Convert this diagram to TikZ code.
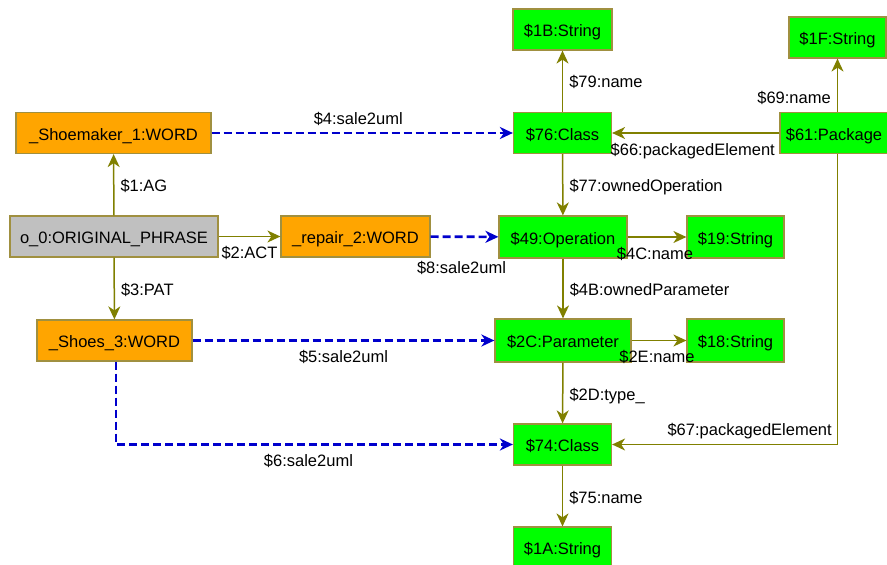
\documentclass[tikz,border=0pt]{standalone}
\usepackage{fontspec}
\setmainfont{Liberation Sans}
\usetikzlibrary{arrows.meta}
\definecolor{edgeolive}{HTML}{808000}
\definecolor{boxborder}{HTML}{A09040}
\definecolor{wordfill}{HTML}{FFA500}
\definecolor{umlfill}{HTML}{00FF00}
\definecolor{phrasefill}{HTML}{C0C0C0}
\definecolor{mapblue}{HTML}{0000CC}
\tikzset{
  box/.style={draw=boxborder, line width=1.2pt, inner sep=0pt, minimum height=41pt,
              text height=14pt, text depth=0pt,
              font=\fontsize{16.5}{19}\selectfont},
  wordbox/.style={box, fill=wordfill},
  umlbox/.style={box, fill=umlfill},
  phrasebox/.style={box, fill=phrasefill},
  rel/.style={draw=edgeolive, line width=1.5pt,
              -{Stealth[length=13pt, width=12pt, inset=4pt]}},
  maplink/.style={draw=mapblue, line width=2.6pt, dash pattern=on 8pt off 4pt,
              -{Stealth[length=13pt, width=12pt, inset=4pt]}},
  lbl/.style={inner sep=0pt, font=\fontsize{16.5}{19}\selectfont, text=black}
}
\begin{document}
\begin{tikzpicture}[x=1pt, y=-1pt]
\useasboundingbox (0,0) rectangle (887,565);
\fill[white] (0,0) rectangle (887,565);

% sentence side
\node[wordbox, minimum width=195pt] (shoe) at (113.5,133) {\_Shoemaker\_1:WORD};
\node[phrasebox, minimum width=208pt] (orig) at (114,236.5) {o\_0:ORIGINAL\_PHRASE};
\node[wordbox, minimum width=149pt] (rep) at (355.5,236.5) {\_repair\_2:WORD};
\node[wordbox, minimum width=155pt] (shoes) at (114.5,340.5) {\_Shoes\_3:WORD};

% UML side
\node[umlbox, minimum width=99pt] (s1B) at (562.5,29.5) {\$1B:String};
\node[umlbox, minimum width=97pt] (s1F) at (837.5,37.5) {\$1F:String};
\node[umlbox, minimum width=98pt] (c76) at (562.5,133) {\$76:Class};
\node[umlbox, minimum width=108pt] (p61) at (834,133) {\$61:Package};
\node[umlbox, minimum width=128pt, minimum height=42pt] (op49) at (563,237) {\$49:Operation};
\node[umlbox, minimum width=97pt, minimum height=42pt] (s19) at (735.5,237) {\$19:String};
\node[umlbox, minimum width=136pt, minimum height=43pt] (p2C) at (563,340.5) {\$2C:Parameter};
\node[umlbox, minimum width=97pt, minimum height=43pt] (s18) at (735.5,340.5) {\$18:String};
\node[umlbox, minimum width=98pt] (c74) at (562.5,444.5) {\$74:Class};
\node[umlbox, minimum width=98pt] (s1A) at (562.5,547.5) {\$1A:String};

% phrase relations
\draw[rel] (orig) -- node[lbl, anchor=base west, xshift=6pt, yshift=-7pt] {\$1:AG} (shoe);
\draw[rel] (orig) -- node[lbl, anchor=base, yshift=-22pt] {\$2:ACT} (rep);
\draw[rel] (orig) -- node[lbl, anchor=base west, xshift=6pt, yshift=-7pt] {\$3:PAT} (shoes);

% sale2uml mappings
\draw[maplink] (shoe) -- node[lbl, anchor=base, xshift=-4pt, yshift=9pt] {\$4:sale2uml} (c76);
\draw[maplink] (rep) -- node[lbl, anchor=base, xshift=-3pt, yshift=-37pt] {\$8:sale2uml} (op49);
\draw[maplink] (shoes) -- node[lbl, anchor=base, yshift=-22pt] {\$5:sale2uml} (p2C);
\draw[maplink] (shoes.south -| 116,0) |- node[lbl, pos=0.75, anchor=base, xshift=-6pt, yshift=-22pt] {\$6:sale2uml} (c74.west);

% UML relations
\draw[rel] (c76) -- node[lbl, anchor=base west, xshift=6pt, yshift=-6pt] {\$79:name} (s1B);
\draw[rel] (p61.north -| s1F) -- node[lbl, pos=0.27, anchor=base east, xshift=-6pt, yshift=-6pt] {\$69:name} (s1F);
\draw[rel] (p61) -- node[lbl, anchor=base, xshift=-3pt, yshift=-22pt] {\$66:packagedElement} (c76);
\draw[rel] (c76) -- node[lbl, anchor=base west, xshift=6pt, yshift=-7pt] {\$77:ownedOperation} (op49);
\draw[rel] (op49) -- node[lbl, anchor=base, xshift=-2pt, yshift=-22pt] {\$4C:name} (s19);
\draw[rel] (op49) -- node[lbl, anchor=base west, xshift=6pt, yshift=-7pt] {\$4B:ownedParameter} (p2C);
\draw[rel] (p2C) -- node[lbl, anchor=base, xshift=-2pt, yshift=-22pt] {\$2E:name} (s18);
\draw[rel] (p2C) -- node[lbl, anchor=base west, xshift=6pt, yshift=-7pt] {\$2D:type\_} (c74);
\draw[rel] (p61.south -| s1F) |- node[lbl, pos=0.5, anchor=base east, xshift=-5pt, yshift=9pt] {\$67:packagedElement} (c74.east);
\draw[rel] (c74) -- node[lbl, anchor=base west, xshift=6pt, yshift=-7pt] {\$75:name} (s1A);
\end{tikzpicture}
\end{document}
